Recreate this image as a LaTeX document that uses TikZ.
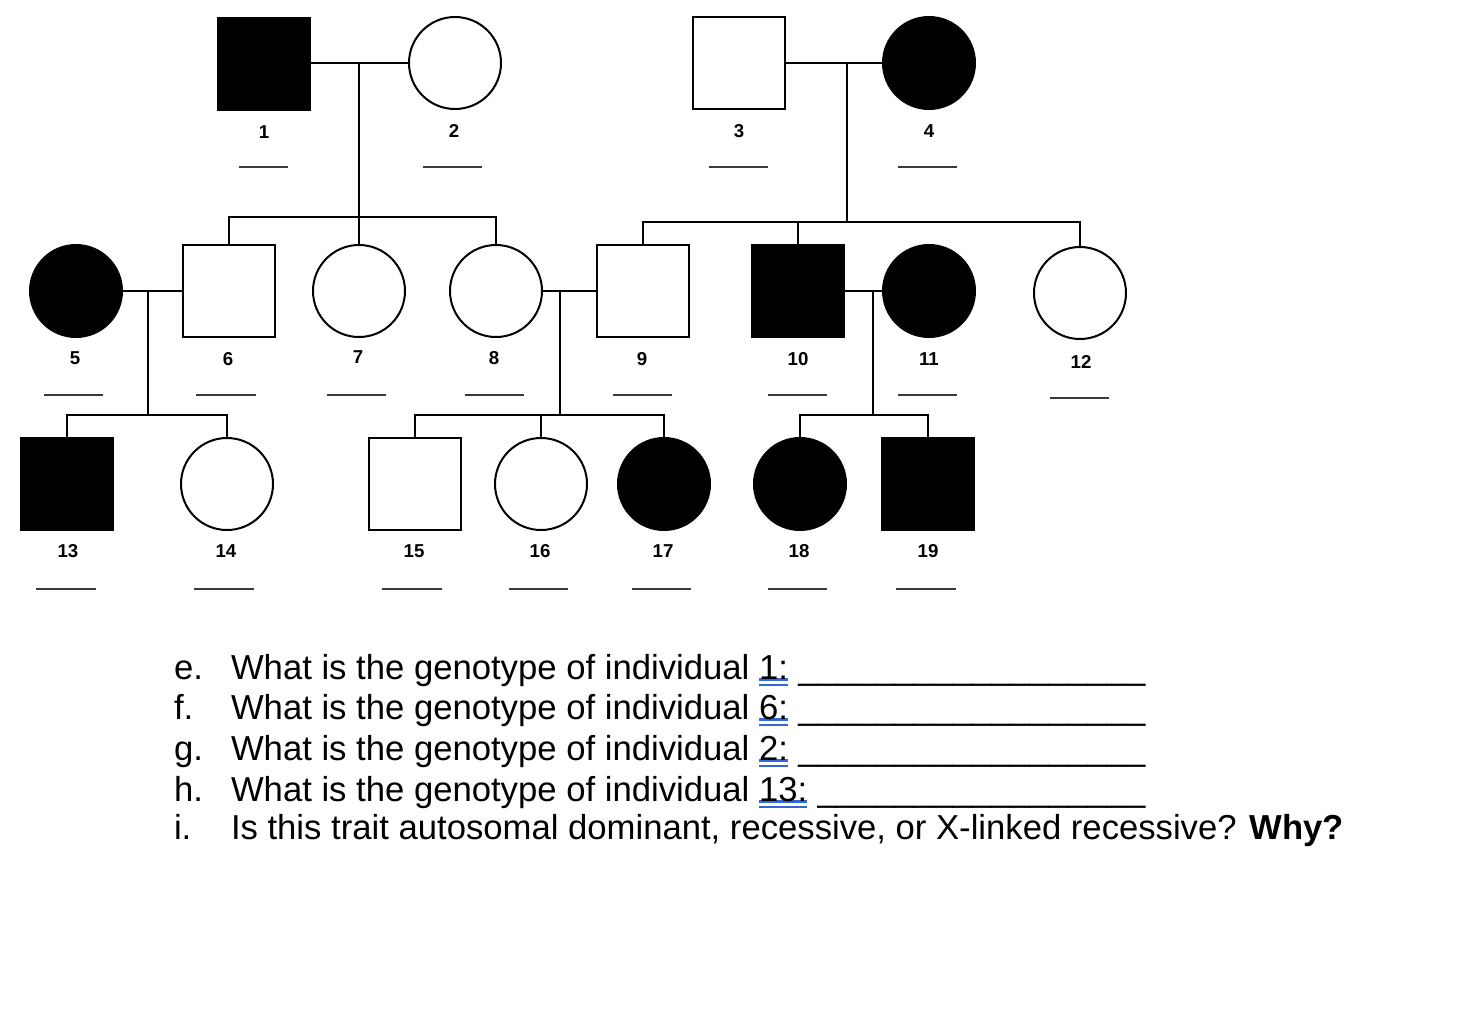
\documentclass[tikz,border=0pt]{standalone}
\usepackage{fontspec}
\setmainfont{Liberation Sans}
\definecolor{ulblue}{HTML}{3367D8}
\definecolor{blankgray}{HTML}{3A3A3A}
% double blue underline as in the worksheet
\newcommand{\dblu}[1]{\setbox0\hbox{#1}\rlap{\color{ulblue}\rule[-1.6pt]{\wd0}{2pt}}\rlap{\color{ulblue}\rule[-5.6pt]{\wd0}{2pt}}\box0}
\newcommand{\blankline}[1]{\foreach \k in {1,...,#1}{\textunderscore}}

\tikzset{every picture/.style={line width=1.5pt}}
\tikzset{
  male/.style={draw, rectangle, minimum size=69pt, inner sep=0pt},
  female/.style={draw, circle, minimum size=69pt, inner sep=0pt},
  aff/.style={fill=black},
  num/.style={font=\fontsize{14}{16}\selectfont\bfseries, inner sep=0pt},
  blank/.style={draw=blankgray, line width=1.7pt},
  question/.style={anchor=base west, inner sep=0pt, font=\fontsize{26}{30}\selectfont}
}

\begin{document}
\begin{tikzpicture}[x=0.75pt,y=0.75pt,yscale=-1,xscale=1]
\useasboundingbox (0,0) rectangle (1472,1026);

% generation I
\node (i1) [male, aff] at (264,64) {};
\node (i2) [female] at (455,63) {};
\node (i3) [male] at (739,63) {};
\node (i4) [female, aff] at (929,63) {};

% generation II
\node (i5) [female, aff] at (76,291) {};
\node (i6) [male] at (229,291) {};
\node (i7) [female] at (359,291) {};
\node (i8) [female] at (496,291) {};
\node (i9) [male] at (643,291) {};
\node (i10) [male, aff] at (798,291) {};
\node (i11) [female, aff] at (929,291) {};
\node (i12) [female] at (1080,293) {};

% generation III
\node (i13) [male, aff] at (67,484) {};
\node (i14) [female] at (227,484) {};
\node (i15) [male] at (415,484) {};
\node (i16) [female] at (541,484) {};
\node (i17) [female, aff] at (664,484) {};
\node (i18) [female, aff] at (800,484) {};
\node (i19) [male, aff] at (928,484) {};

% matings and sibships
\coordinate (c12) at (359,63);
\coordinate (s12) at (359,217);
\coordinate (c34) at (847,63);
\coordinate (s34) at (847,222);
\coordinate (c56) at (148,291);
\coordinate (s56) at (148,415);
\coordinate (c89) at (560,291);
\coordinate (s89) at (560,415);
\coordinate (c1011) at (873,291);
\coordinate (s1011) at (873,415);

\draw (i1.east |- c12) -- (i2);
\draw (i3) -- (i4);
\draw (i5) -- (i6);
\draw (i8) -- (i9);
\draw (i10) -- (i11);

\draw (c12) -- (s12);
\draw (i6) |- (s12) -| (i8);
\draw (i7) -- (i7 |- s12);

\draw (c34) -- (s34);
\draw (i9) |- (s34) -| (i12);
\draw (i10) -- (i10 |- s34);

\draw (c56) -- (s56);
\draw (i13) |- (s56) -| (i14);

\draw (c89) -- (s89);
\draw (i15) |- (s89) -| (i17);
\draw (i16) -- (i16 |- s89);

\draw (c1011) -- (s1011);
\draw (i18) |- (s1011) -| (i19);

% numbers
\node (n1) [num] at (264,132) {1};
\node (n2) [num] at (454,131) {2};
\node (n3) [num] at (739,131) {3};
\node (n4) [num] at (929,131) {4};
\node (n5) [num] at (75,358) {5};
\node (n6) [num] at (228,359) {6};
\node (n7) [num] at (358,357) {7};
\node (n8) [num] at (494,358) {8};
\node (n9) [num] at (642,359) {9};
\node (n10) [num] at (798,359) {10};
\node (n11) [num] at (929,359) {11};
\node (n12) [num] at (1081,362) {12};
\node (n13) [num] at (68,551) {13};
\node (n14) [num] at (226,551) {14};
\node (n15) [num] at (414,551) {15};
\node (n16) [num] at (540,551) {16};
\node (n17) [num] at (663,551) {17};
\node (n18) [num] at (799,551) {18};
\node (n19) [num] at (928,551) {19};

% blanks for genotypes
\draw [blank] (239,167) -- (288,167);
\draw [blank] (423,167) -- (482,167);
\draw [blank] (709,167) -- (768,167);
\draw [blank] (898,167) -- (957,167);
\draw [blank] (44,395) -- (103,395);
\draw [blank] (196,395) -- (256,395);
\draw [blank] (327,395) -- (386,395);
\draw [blank] (465,395) -- (524,395);
\draw [blank] (613,395) -- (672,395);
\draw [blank] (768,395) -- (827,395);
\draw [blank] (898,395) -- (957,395);
\draw [blank] (1050,398) -- (1109,398);
\draw [blank] (36,589) -- (96,589);
\draw [blank] (194,589) -- (254,589);
\draw [blank] (382,589) -- (442,589);
\draw [blank] (509,589) -- (568,589);
\draw [blank] (632,589) -- (691,589);
\draw [blank] (768,589) -- (827,589);
\draw [blank] (896,589) -- (956,589);

% questions
\node (le) [question] at (173,679) {e.};
\node (qe) [question] at (230,679) {What is the genotype of individual \dblu{1:}\hspace{0.3em}\blankline{18}};
\node (lf) [question] at (173,719) {f.};
\node (qf) [question] at (230,719) {What is the genotype of individual \dblu{6:}\hspace{0.3em}\blankline{18}};
\node (lg) [question] at (173,760) {g.};
\node (qg) [question] at (230,760) {What is the genotype of individual \dblu{2:}\hspace{0.3em}\blankline{18}};
\node (lh) [question] at (173,801) {h.};
\node (qh) [question] at (230,801) {What is the genotype of individual \dblu{13:}\hspace{0.3em}\blankline{17}};
\node (li) [question] at (173,839) {i.};
\node (qi) [question] at (230,839) {Is this trait autosomal dominant, recessive, or X-linked recessive? \textbf{Why?}};

\end{tikzpicture}
\end{document}
